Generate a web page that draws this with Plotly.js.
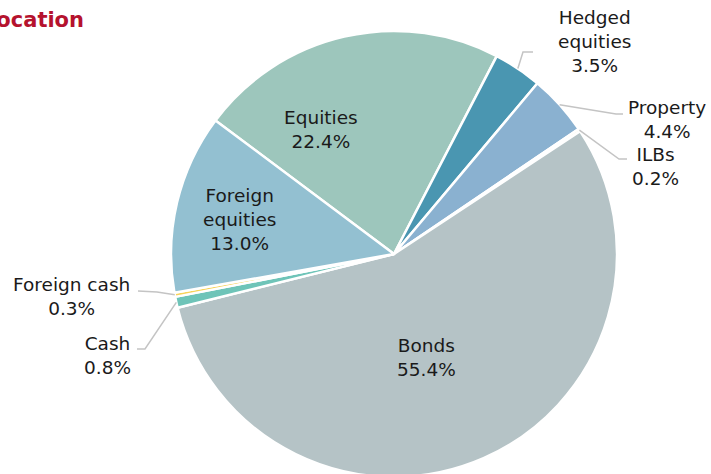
<!DOCTYPE html>
<html>
<head>
<meta charset="utf-8">
<script src="https://cdn.plot.ly/plotly-3.0.1.min.js"></script>
<style>
html,body{margin:0;padding:0;overflow:hidden;background:#fff;}
#chart{width:711px;height:480px;}
</style>
</head>
<body>
<div id="chart"></div>
<script>
// ---- data ----
const categories = ['Equities','Hedged equities','Property','ILBs','Bonds','Cash','Foreign cash','Foreign equities'];
const labelText  = ['Equities','Hedged<br>equities','Property','ILBs','Bonds','Cash','Foreign cash','Foreign<br>equities'];
const values     = [22.4, 3.5, 4.4, 0.2, 55.4, 0.8, 0.3, 13.0];
const colors     = ['#9dc6bc','#4a96b1','#8ab1d0','#f4eed2','#b5c3c6','#6ec4b8','#f7d35a','#93c0d1'];

// ---- layout constants ----
const W = 711, H = 480;
const CX = 394, CY = 254, R = 223;
const ROT = -53.2;
const px = x => x / W;
const py = y => 1 - y / H;

// label placement (pixel centres) and leader-line geometry (elbow, end) for outside labels
const labelPos = {
  'Equities':        {x: 321, y: 129},
  'Hedged equities': {x: 594, y: 41},
  'Property':        {x: 667, y: 119},
  'ILBs':            {x: 655, y: 166},
  'Bonds':           {x: 427, y: 357},
  'Cash':            {x: 107, y: 355},
  'Foreign cash':    {x: 71,  y: 296},
  'Foreign equities':{x: 239, y: 219}
};
const leaders = {
  'Hedged equities': {elbow: [523, 52],  end: [533, 52]},
  'Property':        {elbow: [616, 114], end: [623, 114]},
  'ILBs':            {elbow: [619, 159], end: [627, 159]},
  'Foreign cash':    {elbow: [157, 292], end: [138, 291]},
  'Cash':            {elbow: [145, 349], end: [137, 349]}
};

const total = values.reduce((a, b) => a + b, 0);
const annotations = [];
const shapes = [];
let cum = 0;
categories.forEach((c, i) => {
  const mid = (ROT + 360 * (cum + values[i] / 2) / total) * Math.PI / 180;
  cum += values[i];
  const p = labelPos[c];
  annotations.push({
    xref: 'paper', yref: 'paper', x: px(p.x), y: py(p.y),
    xanchor: 'center', yanchor: 'middle', showarrow: false, align: 'center',
    text: labelText[i] + '<br>' + values[i].toFixed(1) + '%',
    font: {family: 'DejaVu Sans, Verdana, sans-serif', size: 18.5, color: '#1a1a1a'}
  });
  if (leaders[c]) {
    const sx = CX + R * Math.sin(mid), sy = CY - R * Math.cos(mid);
    const L = leaders[c];
    shapes.push({
      type: 'path', xref: 'paper', yref: 'paper',
      path: 'M' + px(sx) + ',' + py(sy) + ' L' + px(L.elbow[0]) + ',' + py(L.elbow[1]) + ' L' + px(L.end[0]) + ',' + py(L.end[1]),
      line: {color: '#c4c4c4', width: 1.5}
    });
  }
});

const trace = {
  type: 'pie',
  labels: categories,
  values: values,
  sort: false,
  direction: 'clockwise',
  rotation: ROT,
  textinfo: 'none',
  hoverinfo: 'label+percent',
  marker: {colors: colors, line: {color: '#ffffff', width: 2.5}},
  domain: {x: [px(CX - R), px(CX + R)], y: [py(CY + R), py(CY - R)]},
  showlegend: false
};

const layout = {
  width: W, height: H,
  margin: {l: 0, r: 0, t: 0, b: 0},
  paper_bgcolor: '#ffffff',
  showlegend: false,
  title: {
    text: '<b>Asset allocation</b>',
    xref: 'container', yref: 'container',
    x: 84 / W, xanchor: 'right', y: 1 - 20 / H, yanchor: 'middle',
    font: {family: 'DejaVu Sans, Verdana, sans-serif', size: 21, color: '#b5122e'}
  },
  annotations: annotations,
  shapes: shapes
};

Plotly.newPlot('chart', [trace], layout, {displayModeBar: false, staticPlot: true});
</script>
</body>
</html>
